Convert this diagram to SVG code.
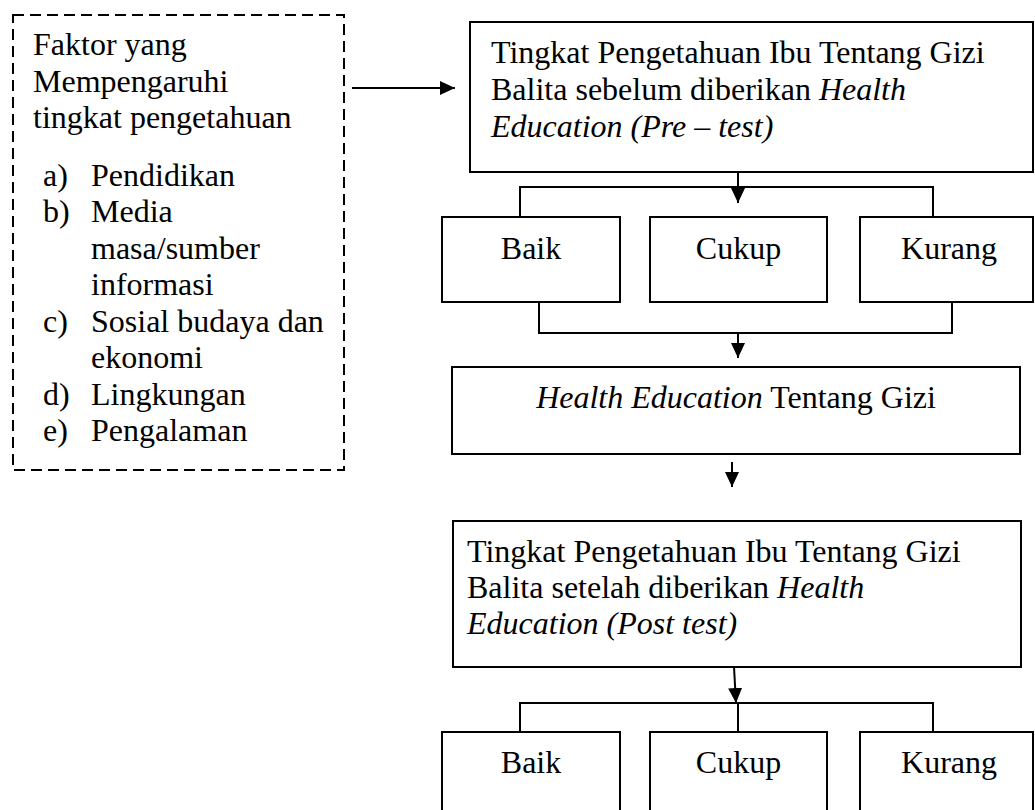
<svg xmlns="http://www.w3.org/2000/svg" width="1035" height="810" viewBox="0 0 1035 810">
  <style>
    .box { fill: #fff; stroke: #000; stroke-width: 2; }
    .dash { fill: #fff; stroke: #000; stroke-width: 2; stroke-dasharray: 11 6; }
    .t { font-family: "Liberation Serif", "Times New Roman", serif; font-size: 32px; fill: #000; }
    .c { text-anchor: middle; }
    .i { font-style: italic; }
    .ln { fill: none; stroke: #000; stroke-width: 2; }
  </style>
  <defs>
    <marker id="ah" markerUnits="userSpaceOnUse" markerWidth="16" markerHeight="14" refX="15" refY="7" orient="auto">
      <polygon points="0,0 15,7 0,14" fill="#000"/>
    </marker>
  </defs>
  <rect width="1035" height="810" fill="#fff"/>

  <g id="faktor">
    <rect class="dash" x="13" y="15" width="331" height="455"/>
    <text class="t" x="33" y="55">Faktor yang</text>
    <text class="t" x="33" y="91.5">Mempengaruhi</text>
    <text class="t" x="33" y="128">tingkat pengetahuan</text>
    <text class="t" x="43" y="186">a)</text><text class="t" x="91" y="186">Pendidikan</text>
    <text class="t" x="43" y="222">b)</text><text class="t" x="91" y="222">Media</text>
    <text class="t" x="91" y="258.5">masa/sumber</text>
    <text class="t" x="91" y="295">informasi</text>
    <text class="t" x="43" y="331.5">c)</text><text class="t" x="91" y="331.5">Sosial budaya dan</text>
    <text class="t" x="91" y="368">ekonomi</text>
    <text class="t" x="43" y="404.5">d)</text><text class="t" x="91" y="404.5">Lingkungan</text>
    <text class="t" x="43" y="441">e)</text><text class="t" x="91" y="441">Pengalaman</text>
  </g>

  <g id="pretest">
    <rect class="box" x="470" y="22" width="563" height="150"/>
    <text class="t" x="491" y="63">Tingkat Pengetahuan Ibu Tentang Gizi</text>
    <text class="t" x="491" y="100">Balita sebelum diberikan <tspan class="i">Health</tspan></text>
    <text class="t i" x="491" y="137">Education (Pre – test)</text>
  </g>

  <g id="pre-baik">
    <rect class="box" x="442" y="217" width="178" height="85"/>
    <text class="t c" x="531" y="258.5">Baik</text>
  </g>
  <g id="pre-cukup">
    <rect class="box" x="650" y="217" width="177" height="85"/>
    <text class="t c" x="738.5" y="258.5">Cukup</text>
  </g>
  <g id="pre-kurang">
    <rect class="box" x="860" y="217" width="173" height="85"/>
    <text class="t c" x="949" y="258.5">Kurang</text>
  </g>

  <g id="health-education">
    <rect class="box" x="452" y="367" width="568" height="87"/>
    <text class="t c" x="736" y="408"><tspan class="i">Health Education</tspan> Tentang Gizi</text>
  </g>

  <g id="posttest">
    <rect class="box" x="453" y="521" width="568" height="146"/>
    <text class="t" x="467" y="562">Tingkat Pengetahuan Ibu Tentang Gizi</text>
    <text class="t" x="467" y="598">Balita setelah diberikan <tspan class="i">Health</tspan></text>
    <text class="t i" x="467" y="634">Education (Post test)</text>
  </g>

  <g id="post-baik">
    <rect class="box" x="442" y="732" width="178" height="90"/>
    <text class="t c" x="531" y="773">Baik</text>
  </g>
  <g id="post-cukup">
    <rect class="box" x="650" y="732" width="177" height="90"/>
    <text class="t c" x="738.5" y="773">Cukup</text>
  </g>
  <g id="post-kurang">
    <rect class="box" x="860" y="732" width="173" height="90"/>
    <text class="t c" x="949" y="773">Kurang</text>
  </g>

  <g id="connectors">
    <line class="ln" x1="352" y1="88" x2="455" y2="88" marker-end="url(#ah)"/>
    <line class="ln" x1="738" y1="172" x2="738" y2="203" marker-end="url(#ah)"/>
    <polyline class="ln" points="520,217 520,187 933,187 933,217"/>
    <polyline class="ln" points="539,302 539,333 952,333 952,302"/>
    <line class="ln" x1="738" y1="333" x2="738" y2="358" marker-end="url(#ah)"/>
    <line class="ln" x1="732" y1="462" x2="732" y2="487" marker-end="url(#ah)"/>
    <line class="ln" x1="734" y1="667" x2="736" y2="703" marker-end="url(#ah)"/>
    <polyline class="ln" points="520,732 520,703 933,703 933,732"/>
    <line class="ln" x1="738" y1="703" x2="738" y2="732"/>
  </g>
</svg>
